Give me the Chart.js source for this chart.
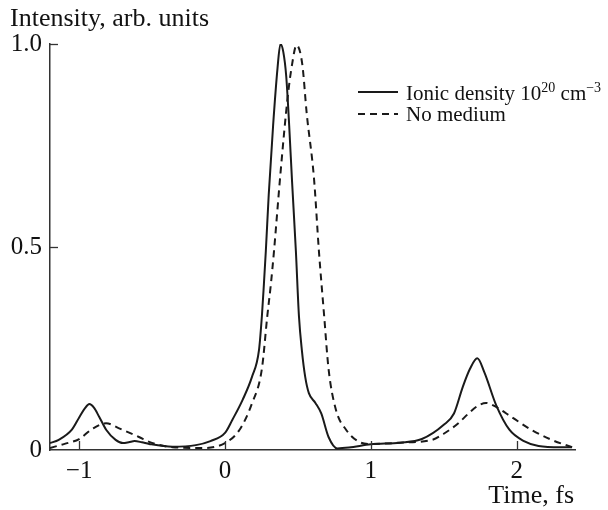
<!DOCTYPE html>
<html>
<head>
<meta charset="utf-8">
<script src="https://cdn.jsdelivr.net/npm/chart.js@4/dist/chart.umd.min.js"></script>
<style>
html,body{margin:0;padding:0;background:#fff;}
canvas{display:block;}
</style>
</head>
<body>
<canvas id="c" width="608" height="510"></canvas>
<script>
// ---- data ----
const ionicX = [-1.2,-1.14,-1.05,-1.0,-0.96,-0.93,-0.9,-0.863,-0.815,-0.75,-0.70,-0.66,-0.62,-0.57,-0.52,-0.36,-0.2,-0.1,0.0,0.05,0.12,0.185,0.233,0.253,0.267,0.28,0.3,0.33,0.36,0.38,0.40,0.42,0.44,0.46,0.486,0.507,0.527,0.55,0.575,0.62,0.66,0.71,0.77,0.85,1.0,1.2,1.35,1.5,1.57,1.63,1.68,1.73,1.78,1.86,1.95,2.05,2.15,2.3,2.38];
const ionicY = [0.017,0.025,0.05,0.08,0.103,0.113,0.105,0.082,0.05,0.025,0.017,0.019,0.022,0.019,0.015,0.008,0.012,0.022,0.042,0.074,0.123,0.18,0.246,0.33,0.41,0.49,0.63,0.8,0.94,1.0,0.98,0.92,0.8,0.66,0.49,0.33,0.246,0.18,0.14,0.116,0.09,0.032,0.004,0.006,0.014,0.018,0.027,0.062,0.09,0.155,0.2,0.226,0.19,0.11,0.05,0.022,0.01,0.007,0.007];
const noMedX = [-1.2,-1.1,-1.0,-0.91,-0.815,-0.73,-0.59,-0.52,-0.36,-0.15,0.0,0.1,0.185,0.253,0.29,0.315,0.336,0.38,0.43,0.46,0.49,0.53,0.56,0.61,0.644,0.68,0.71,0.76,0.83,0.92,1.0,1.2,1.42,1.5,1.6,1.67,1.73,1.79,1.85,1.97,2.1,2.24,2.38];
const noMedY = [0.005,0.015,0.027,0.052,0.066,0.054,0.032,0.02,0.007,0.005,0.017,0.05,0.115,0.2,0.33,0.41,0.49,0.68,0.87,0.95,0.997,0.95,0.83,0.67,0.49,0.33,0.2,0.1,0.05,0.02,0.015,0.018,0.025,0.04,0.066,0.09,0.108,0.116,0.108,0.08,0.05,0.025,0.007];
const xTicks = [-1,0,1,2];
const yTicks = [0,0.5,1.0];
const seriesNames = ['Ionic density 10', 'No medium'];
const xTitle = 'Time, fs';
const yTitle = 'Intensity, arb. units';

const SERIF = '"Liberation Serif","DejaVu Serif",serif';
const INK = '#1a1a1a';

const toPts = (xs, ys) => xs.map((x, i) => ({x: x, y: ys[i]}));

const decor = {
  id: 'decor',
  afterDraw(chart) {
    const ctx = chart.ctx;
    const xs = chart.scales.x, ys = chart.scales.y;
    ctx.save();
    // inward ticks
    ctx.strokeStyle = '#333';
    ctx.lineWidth = 1.3;
    xTicks.forEach(v => {
      const px = Math.round(xs.getPixelForValue(v)) + 0.5;
      ctx.beginPath(); ctx.moveTo(px, ys.bottom); ctx.lineTo(px, ys.bottom - 9); ctx.stroke();
    });
    yTicks.forEach(v => {
      if (v === 0) return;
      const py = Math.round(ys.getPixelForValue(v)) + 0.5;
      ctx.beginPath(); ctx.moveTo(xs.left, py); ctx.lineTo(xs.left + 8, py); ctx.stroke();
    });
    // titles
    ctx.fillStyle = '#111';
    ctx.font = '26px ' + SERIF;
    ctx.textBaseline = 'alphabetic';
    ctx.textAlign = 'left';
    ctx.fillText(yTitle, 10, 26);
    ctx.textAlign = 'right';
    ctx.fillText(xTitle, xs.right - 1, 503);
    // legend
    ctx.textAlign = 'left';
    ctx.strokeStyle = INK;
    ctx.lineWidth = 2;
    ctx.setLineDash([]);
    ctx.beginPath(); ctx.moveTo(358, 92); ctx.lineTo(398, 92); ctx.stroke();
    ctx.setLineDash([7, 5]);
    ctx.beginPath(); ctx.moveTo(358, 114); ctx.lineTo(398, 114); ctx.stroke();
    ctx.setLineDash([]);
    let tx = 406;
    ctx.font = '21px ' + SERIF;
    ctx.fillText(seriesNames[0], tx, 100);
    tx += ctx.measureText(seriesNames[0]).width;
    ctx.font = '14px ' + SERIF;
    ctx.fillText('20', tx, 92);
    tx += ctx.measureText('20').width;
    ctx.font = '21px ' + SERIF;
    ctx.fillText(' cm', tx, 100);
    tx += ctx.measureText(' cm').width;
    ctx.font = '14px ' + SERIF;
    ctx.fillText('\u22123', tx, 92);
    ctx.font = '21px ' + SERIF;
    ctx.fillText(seriesNames[1], 406, 121);
    ctx.restore();
  }
};

new Chart(document.getElementById('c'), {
  type: 'line',
  data: {
    datasets: [
      {label: seriesNames[0], data: toPts(ionicX, ionicY), borderColor: INK, borderWidth: 2, pointRadius: 0, cubicInterpolationMode: 'monotone', fill: false},
      {label: seriesNames[1], data: toPts(noMedX, noMedY), borderColor: INK, borderWidth: 2, borderDash: [7, 5], pointRadius: 0, cubicInterpolationMode: 'monotone', fill: false}
    ]
  },
  options: {
    responsive: false,
    devicePixelRatio: 1,
    animation: false,
    layout: {padding: {top: 44, right: 33, left: 0, bottom: 0}},
    plugins: {legend: {display: false}, tooltip: {enabled: false}},
    scales: {
      x: {
        type: 'linear', min: -1.2, max: 2.4,
        grid: {display: false, drawTicks: false},
        border: {display: true, color: '#333', width: 1.5},
        afterBuildTicks: s => { s.ticks = xTicks.map(v => ({value: v})); },
        afterFit: s => { s.height = 60; },
        ticks: {
          padding: 6, color: '#111', font: {family: SERIF, size: 25},
          maxRotation: 0, autoSkip: false,
          callback: v => v < 0 ? '\u2212' + Math.abs(v) : String(v)
        }
      },
      y: {
        type: 'linear', min: 0, max: 1.0,
        grid: {display: false, drawTicks: false},
        border: {display: true, color: '#333', width: 1.5},
        afterBuildTicks: s => { s.ticks = yTicks.map(v => ({value: v})); },
        afterFit: s => { s.width = 50; },
        ticks: {
          padding: 8, color: '#111', font: {family: SERIF, size: 25},
          callback: v => v === 0 ? '0' : v.toFixed(1)
        }
      }
    }
  },
  plugins: [decor]
});
</script>
</body>
</html>
